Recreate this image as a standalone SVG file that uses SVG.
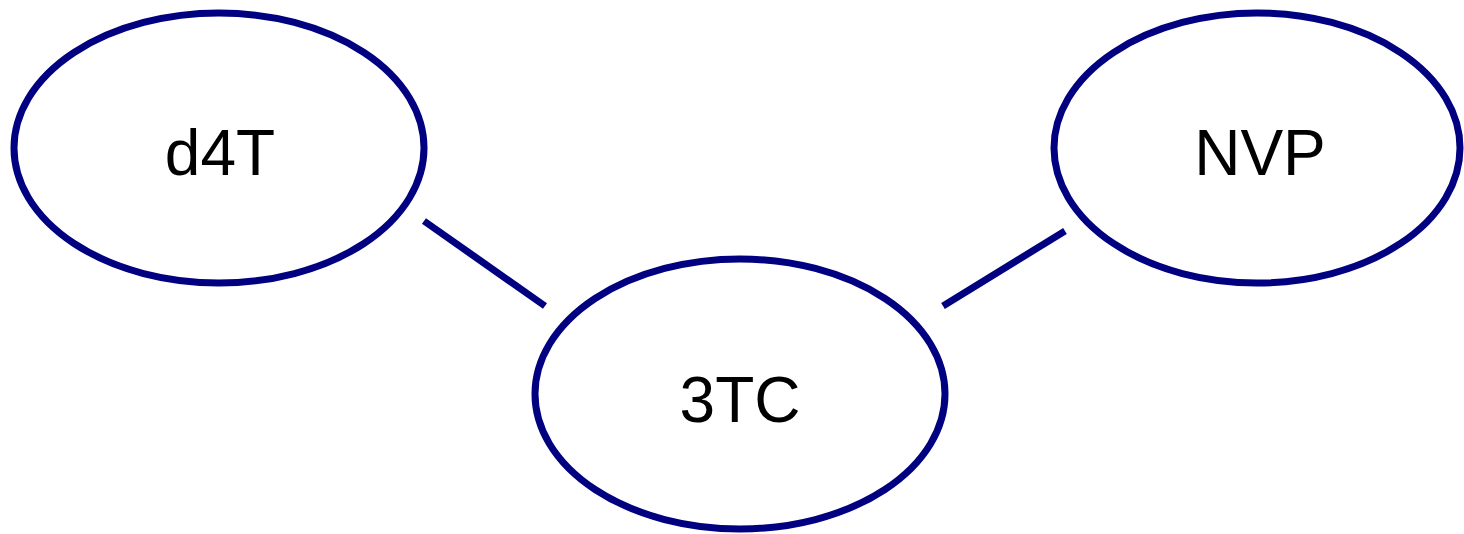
<svg xmlns="http://www.w3.org/2000/svg" width="1464" height="534" viewBox="0 0 1464 534">
<style>
.node ellipse{fill:#ffffff;stroke:#000080;stroke-width:7}
.node text{font-family:"Liberation Sans",Arial,sans-serif;font-size:64px;fill:#000000;text-anchor:middle}
.edges line{stroke:#000080;stroke-width:7}
</style>
<rect width="1464" height="534" fill="#ffffff"/>
<g class="edges">
<line x1="424" y1="221" x2="545" y2="306"/>
<line x1="1065" y1="231" x2="943" y2="306"/>
</g>
<g id="d4T" class="node"><ellipse cx="219" cy="148" rx="205" ry="135"/><text x="220" y="175">d4T</text></g>
<g id="NVP" class="node"><ellipse cx="1257" cy="148" rx="203" ry="135"/><text x="1260" y="175">NVP</text></g>
<g id="3TC" class="node"><ellipse cx="740" cy="394" rx="205" ry="135"/><text x="740" y="422">3TC</text></g>
</svg>
